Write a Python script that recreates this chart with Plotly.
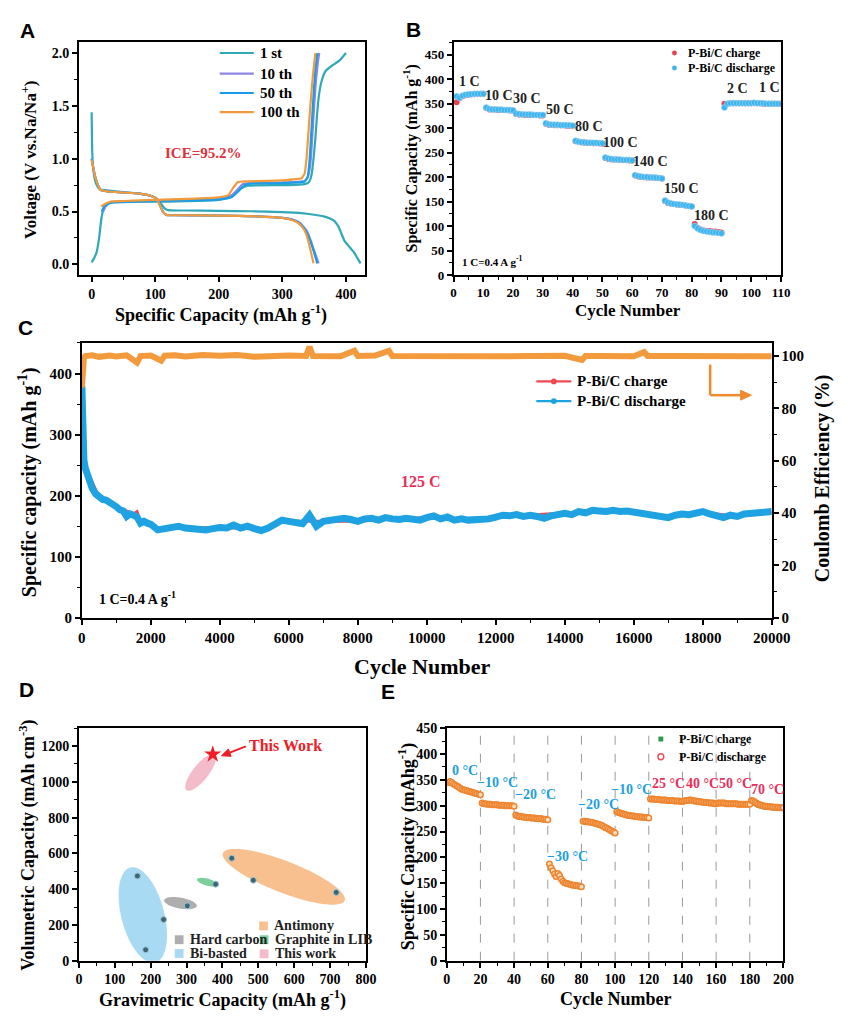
import numpy as np
import plotly.graph_objects as go

W, H = 855, 1016
SERIF = "Liberation Serif"
SANS = "Liberation Sans"


def fx(x):
    return x / W


def fy(y):
    return 1 - y / H


# ---------------- Panel A: charge/discharge profiles ----------------
a_cycles = ["1 st", "10 th", "50 th", "100 th"]
a_colors = ["#2fa8ba", "#8e86e6", "#1a9de6", "#f39a3c"]

a_dis_cap = [
    [0, 1, 3, 6, 10, 14, 25, 50, 75, 95, 102, 108, 114, 118, 125, 150, 200, 250, 300, 330, 350, 365, 375, 382, 388, 393, 398, 405, 412, 418, 423],
    [0, 3, 6, 10, 14, 25, 50, 75, 90, 100, 106, 112, 118, 130, 200, 260, 300, 318, 328, 338, 345, 350, 357],
    [0, 3, 6, 10, 14, 25, 50, 75, 90, 100, 106, 112, 118, 130, 200, 260, 300, 317, 327, 337, 344, 349, 355],
    [0, 3, 6, 10, 14, 25, 50, 75, 90, 100, 106, 112, 118, 130, 200, 260, 300, 315, 325, 334, 340, 344, 349],
]
a_dis_v = [
    [1.44, 1.05, 0.88, 0.78, 0.73, 0.71, 0.70, 0.685, 0.67, 0.645, 0.625, 0.585, 0.535, 0.518, 0.512, 0.51, 0.507, 0.503, 0.495, 0.485, 0.47, 0.455, 0.435, 0.41, 0.36, 0.29, 0.22, 0.17, 0.12, 0.06, 0.01],
    [1.0, 0.90, 0.82, 0.75, 0.705, 0.69, 0.68, 0.67, 0.655, 0.63, 0.58, 0.50, 0.468, 0.465, 0.462, 0.455, 0.44, 0.42, 0.39, 0.32, 0.22, 0.13, 0.01],
    [1.0, 0.90, 0.82, 0.75, 0.705, 0.69, 0.68, 0.67, 0.655, 0.63, 0.58, 0.50, 0.468, 0.465, 0.462, 0.455, 0.44, 0.42, 0.39, 0.32, 0.22, 0.13, 0.01],
    [0.99, 0.90, 0.82, 0.75, 0.705, 0.69, 0.68, 0.67, 0.655, 0.63, 0.58, 0.50, 0.468, 0.465, 0.462, 0.455, 0.44, 0.42, 0.39, 0.33, 0.24, 0.14, 0.01],
]
a_chg_cap = [
    [0, 4, 8, 12, 15, 18, 24, 34, 60, 120, 190, 210, 222, 235, 245, 300, 335, 342, 346, 349, 352, 355, 358, 362, 368, 378, 390, 400],
    [18, 22, 30, 50, 100, 200, 218, 228, 238, 250, 300, 335, 340, 344, 347, 350, 353, 356, 358],
    [16, 20, 30, 50, 100, 200, 220, 232, 242, 250, 300, 335, 340, 343, 346, 349, 352, 355],
    [15, 20, 30, 50, 100, 150, 200, 215, 222, 230, 240, 300, 330, 335, 338, 341, 344, 347, 350, 352],
]
a_chg_v = [
    [0.02, 0.06, 0.12, 0.26, 0.42, 0.51, 0.57, 0.59, 0.592, 0.595, 0.605, 0.625, 0.66, 0.72, 0.745, 0.75, 0.76, 0.78, 0.85, 1.0, 1.2, 1.45, 1.62, 1.74, 1.83, 1.88, 1.93, 2.0],
    [0.50, 0.55, 0.59, 0.595, 0.60, 0.62, 0.64, 0.70, 0.76, 0.77, 0.775, 0.79, 0.83, 0.95, 1.2, 1.5, 1.75, 1.92, 2.0],
    [0.50, 0.55, 0.585, 0.59, 0.60, 0.615, 0.635, 0.70, 0.755, 0.765, 0.77, 0.785, 0.83, 1.0, 1.3, 1.6, 1.85, 2.0],
    [0.55, 0.57, 0.595, 0.60, 0.61, 0.62, 0.635, 0.655, 0.72, 0.78, 0.785, 0.795, 0.815, 0.86, 1.0, 1.25, 1.5, 1.72, 1.9, 2.0],
]

# ---------------- Panel B: rate capability ----------------
b_cycle = list(range(1, 111))
b_discharge = [
    365, 362, 366, 368, 369, 369, 370, 370, 370, 370,
    342, 339, 338, 338, 338, 338, 337, 337, 337, 336,
    330, 329, 328, 328, 328, 328, 327, 327, 327, 327,
    310, 308, 307, 307, 307, 306, 306, 306, 306, 305,
    274, 272, 271, 271, 270, 270, 270, 270, 269, 269,
    240, 238, 237, 236, 236, 236, 235, 235, 235, 234,
    204, 202, 201, 200, 200, 199, 199, 199, 198, 197,
    152, 148, 146, 145, 144, 144, 143, 142, 141, 140,
    100, 95, 92, 90, 89, 88, 87, 87, 86, 85,
    342, 350, 351, 351, 351, 351, 351, 351, 351, 351,
    352, 351, 351, 351, 350, 350, 350, 350, 350, 350,
]
b_charge = [
    353, 361, 365, 367, 368, 369, 369, 370, 370, 370,
    341, 338, 338, 338, 337, 337, 337, 337, 336, 336,
    329, 328, 328, 327, 327, 327, 327, 327, 326, 326,
    309, 307, 307, 306, 306, 306, 306, 305, 305, 305,
    273, 272, 271, 270, 270, 270, 269, 269, 269, 268,
    239, 237, 236, 236, 236, 235, 235, 235, 234, 234,
    203, 201, 200, 200, 199, 199, 199, 198, 198, 197,
    151, 147, 146, 145, 144, 143, 143, 142, 141, 140,
    104, 96, 93, 91, 90, 90, 89, 89, 88, 87,
    350, 350, 351, 351, 351, 351, 351, 351, 351, 351,
    351, 351, 351, 350, 350, 350, 350, 350, 350, 350,
]
b_rate_labels = ["1 C", "10 C", "30 C", "50 C", "80 C", "100 C", "140 C", "150 C", "180 C", "2 C", "1 C"]
b_rate_x = [5.2, 15.1, 24.6, 35.6, 45.4, 56, 66.2, 76.6, 86.8, 95.3, 106]
b_rate_y = [396, 366, 361, 338, 304, 270, 232, 176, 121, 381, 383]

# ---------------- Panel C: long-term cycling at 125 C ----------------
c_cycle = [
    1, 10, 30, 60, 100, 150, 200, 300, 400, 500, 600, 700, 800, 900, 1000,
    1100, 1200, 1300, 1400, 1500, 1600, 1700, 1800, 1900, 2000,
    2200, 2400, 2600, 2800, 3000, 3200, 3400, 3600, 3800, 4000,
    4200, 4400, 4600, 4800, 5000, 5200, 5400, 5600, 5800, 6000,
    6200, 6400, 6600, 6800, 7000, 7200, 7400, 7600, 7800, 8000,
    8200, 8400, 8600, 8800, 9000, 9200, 9400, 9600, 9800, 10000,
    10200, 10400, 10600, 10800, 11000, 11200, 11400, 11600, 11800, 12000,
    12200, 12400, 12600, 12800, 13000, 13200, 13400, 13600, 13800, 14000,
    14200, 14400, 14600, 14800, 15000, 15200, 15400, 15600, 15800, 16000,
    16200, 16400, 16600, 16800, 17000, 17200, 17400, 17600, 17800, 18000,
    18200, 18400, 18600, 18800, 19000, 19200, 19400, 19600, 19800, 20000,
]
c_discharge = [
    380, 330, 275, 258, 245, 235, 225, 212, 203, 197, 194, 193, 190, 185, 182,
    177, 175, 166, 170, 168, 165, 155, 158, 155, 153,
    144, 146, 148, 150, 147, 146, 144, 144, 146, 148,
    147, 152, 147, 150, 146, 143, 147, 152, 160, 158,
    156, 154, 168, 150, 158, 160, 160, 163, 161, 158,
    162, 163, 160, 164, 162, 161, 163, 162, 160, 164,
    167, 162, 165, 160, 162, 160, 161, 160, 162, 165,
    168, 167, 169, 166, 168, 166, 163, 167, 170, 171,
    169, 174, 172, 176, 175, 174, 176, 174, 175, 173,
    172, 170, 168, 166, 164, 168, 170, 169, 172, 174,
    170, 166, 164, 168, 166, 170, 171, 173, 172, 174,
]
c_chg_cycle = [1, 100, 500, 1000, 1500, 1600, 1700, 2000, 2200, 3000, 4000, 5000, 5200, 5800, 6000,
               7000, 8000, 9000, 10000, 11000, 12000, 13000, 14000, 15000, 16000, 17000, 18000, 19000, 20000]
c_charge = [385, 248, 197, 182, 170, 174, 157, 153, 145, 147, 148, 146, 144, 158, 158,
            158, 158, 162, 164, 162, 165, 168, 171, 175, 173, 164, 173, 166, 173]
c_ce_cycle = [
    1, 10, 30, 60, 100, 300, 500, 800, 1000, 1300, 1600, 1700, 2000, 2300, 2400,
    2700, 3000, 3500, 4000, 4500, 5000, 5500, 6000, 6500, 6600, 6700, 7000, 7500,
    7900, 8000, 8500, 8900, 9000, 9500, 10000, 11000, 12000, 13000, 14000, 14500,
    14600, 15000, 16000, 16300, 16400, 17000, 18000, 19000, 20000,
]
c_ce = [
    88, 94, 98, 99.5, 100, 100.3, 99.7, 100.2, 99.8, 100.3, 97.5, 100, 100.2, 98.2, 100.1,
    100.3, 99.8, 100.4, 100.1, 100.4, 99.7, 100, 100.2, 100, 103.5, 100, 100.1, 99.9,
    102, 100, 100.2, 102, 100, 99.9, 100, 100.1, 99.9, 100, 100.1, 98.5,
    100, 100, 99.9, 101.5, 100, 100, 100.1, 100, 99.9,
]

# ---------------- Panel D: gravimetric vs volumetric capacity ----------------
d_groups = ["Bi-basted", "Antimony", "Hard carbon", "Graphite in LIB", "This work"]
d_fill = ["rgba(140,205,240,0.75)", "rgba(245,170,105,0.75)", "rgba(140,140,140,0.7)",
          "rgba(80,190,120,0.75)", "rgba(240,160,180,0.7)"]
d_center_x = [178, 571, 283, 358, 339]
d_center_y = [255, 469, 322, 439, 1052]
d_pt_x = [163, 236, 186, 302, 381, 426, 486, 717]
d_pt_y = [474, 230, 61, 307, 428, 573, 450, 382]
d_star = (373, 1154)
d_label = (577, 1204)

# ---------------- Panel E: temperature performance ----------------
e_cycle = list(range(1, 201))
e_discharge = [
    345, 347, 345, 342, 340, 338, 336, 334, 332, 331, 330, 329, 328, 327, 326, 325, 324, 323, 322, 321,
    305, 304, 304, 303, 303, 303, 302, 302, 302, 302, 301, 301, 301, 301, 300, 300, 300, 300, 300, 299,
    282, 280, 279, 279, 278, 278, 277, 277, 277, 276, 276, 276, 275, 275, 275, 275, 274, 274, 274, 273,
    187, 180, 174, 168, 163, 169, 165, 158, 154, 151, 150, 149, 148, 147, 146, 146, 145, 145, 144, 143,
    270, 270, 269, 269, 268, 268, 267, 266, 265, 264, 263, 262, 260, 258, 257, 255, 253, 251, 249, 247,
    289, 287, 286, 285, 284, 283, 282, 281, 281, 280, 280, 279, 279, 278, 278, 278, 277, 277, 277, 276,
    313, 313, 313, 312, 312, 312, 311, 311, 311, 311, 310, 310, 310, 310, 309, 309, 309, 309, 308, 308,
    309, 310, 310, 311, 311, 310, 309, 309, 308, 308, 307, 307, 306, 306, 306, 305, 305, 305, 304, 304,
    305, 305, 305, 305, 305, 304, 304, 304, 304, 304, 304, 304, 303, 303, 303, 303, 303, 303, 303, 303,
    310, 309, 307, 305, 303, 302, 301, 300, 299, 299, 298, 298, 298, 297, 297, 297, 297, 296, 296, 296,
]
e_charge = [
    344, 346, 344, 341, 339, 337, 335, 333, 331, 330, 329, 328, 327, 326, 325, 324, 323, 322, 321, 320,
    304, 303, 303, 302, 302, 302, 301, 301, 301, 301, 300, 300, 300, 300, 299, 299, 299, 299, 299, 298,
    281, 279, 278, 278, 277, 277, 276, 276, 276, 275, 275, 275, 274, 274, 274, 274, 273, 273, 273, 272,
    185, 178, 172, 166, 162, 167, 163, 157, 153, 150, 149, 148, 147, 146, 145, 145, 144, 144, 143, 142,
    269, 269, 268, 268, 267, 267, 266, 265, 264, 263, 262, 261, 259, 257, 256, 254, 252, 250, 248, 246,
    288, 286, 285, 284, 283, 282, 281, 280, 280, 279, 279, 278, 278, 277, 277, 277, 276, 276, 276, 275,
    312, 312, 312, 311, 311, 311, 310, 310, 310, 310, 309, 309, 309, 309, 308, 308, 308, 308, 307, 307,
    308, 309, 309, 310, 310, 309, 308, 308, 307, 307, 306, 306, 305, 305, 305, 304, 304, 304, 303, 303,
    304, 304, 304, 304, 304, 303, 303, 303, 303, 303, 303, 303, 302, 302, 302, 302, 302, 302, 302, 302,
    307, 306, 304, 302, 300, 299, 298, 297, 297, 296, 296, 296, 295, 295, 295, 295, 294, 294, 294, 294,
]
e_steps = [20, 40, 60, 80, 100, 120, 140, 160, 180]
e_temp_labels = ["0 °C", "−10 °C", "−20 °C", "−30 °C", "−20 °C", "−10 °C", "25 °C", "40 °C", "50 °C", "70 °C"]
e_temp_x = [11, 30.4, 52.6, 71.8, 89.9, 109.5, 132, 151.7, 171.5, 190.8]
e_temp_y = [369, 345, 321, 201, 302, 332, 343, 343, 343, 331]
e_temp_colors = ["#1e9fe0"] * 6 + ["#e8305a"] * 4

fig = go.Figure()

# ---- A traces
for i in range(4):
    fig.add_trace(go.Scatter(x=a_dis_cap[i], y=a_dis_v[i], mode="lines",
                             line=dict(color=a_colors[i], width=2.2, shape="spline", smoothing=0.4),
                             xaxis="x", yaxis="y", showlegend=False))
    fig.add_trace(go.Scatter(x=a_chg_cap[i], y=a_chg_v[i], mode="lines",
                             line=dict(color=a_colors[i], width=2.2, shape="spline", smoothing=0.4),
                             xaxis="x", yaxis="y", showlegend=False))

# ---- B traces
fig.add_trace(go.Scatter(x=b_cycle, y=b_charge, mode="markers",
                         marker=dict(color="#e8404f", size=6, line=dict(width=0)),
                         xaxis="x2", yaxis="y2", showlegend=False))
fig.add_trace(go.Scatter(x=b_cycle, y=b_discharge, mode="markers",
                         marker=dict(color="#3bb3ee", size=6, line=dict(color="#a5dcf7", width=0.6)),
                         xaxis="x2", yaxis="y2", showlegend=False))

# ---- C traces
fig.add_trace(go.Scatter(x=c_ce_cycle, y=c_ce, mode="lines",
                         line=dict(color="#f39a3c", width=6),
                         xaxis="x3", yaxis="y4", showlegend=False))
fig.add_trace(go.Scatter(x=c_chg_cycle, y=c_charge, mode="lines",
                         line=dict(color="#ee4a55", width=3),
                         xaxis="x3", yaxis="y3", showlegend=False))
fig.add_trace(go.Scatter(x=c_cycle, y=c_discharge, mode="lines",
                         line=dict(color="#1fa2e2", width=7),
                         xaxis="x3", yaxis="y3", showlegend=False))

# ---- D traces
D_LEFT, D_BOTTOM = 77, 968
sx_d = 295 / 800.0
sy_d = 236 / 1300.0
d_axes_px = [(50, 22, 75), (67, 16, 21), (17, 5.5, 10), (11, 3.5, 15), (23, 8, -51)]
shapes = []
for k in range(5):
    a_px, b_px, ang = d_axes_px[k]
    t = np.linspace(0, 2 * np.pi, 72)
    th = np.radians(ang)
    dxp = a_px * np.cos(t) * np.cos(th) - b_px * np.sin(t) * np.sin(th)
    dyp = a_px * np.cos(t) * np.sin(th) + b_px * np.sin(t) * np.cos(th)
    xs = d_center_x[k] + dxp / sx_d
    ys = d_center_y[k] - dyp / sy_d
    path = "M " + " L ".join(f"{x:.2f},{y:.2f}" for x, y in zip(xs, ys)) + " Z"
    shapes.append(dict(type="path", path=path, xref="x4", yref="y5",
                       fillcolor=d_fill[k], line=dict(width=0), layer="below"))

fig.add_trace(go.Scatter(x=d_pt_x, y=d_pt_y, mode="markers",
                         marker=dict(color="#3d6675", size=6, line=dict(color="#9fc9d9", width=1)),
                         xaxis="x4", yaxis="y5", showlegend=False))
fig.add_trace(go.Scatter(x=[d_star[0]], y=[d_star[1]], mode="markers",
                         marker=dict(color="#ee1c25", size=13, symbol="star"),
                         xaxis="x4", yaxis="y5", showlegend=False))

# ---- E traces
fig.add_trace(go.Scatter(x=e_cycle, y=e_charge, mode="markers",
                         marker=dict(color="#2f9a48", size=4, symbol="square"),
                         xaxis="x5", yaxis="y6", showlegend=False))
fig.add_trace(go.Scatter(x=e_cycle, y=e_discharge, mode="markers",
                         marker=dict(color="#fde0c0", size=5.5, line=dict(color="#ee8530", width=1.5)),
                         xaxis="x5", yaxis="y6", showlegend=False))

for s in e_steps:
    shapes.append(dict(type="line", xref="x5", yref="y6", x0=s, x1=s, y0=0, y1=450,
                       line=dict(color="#9a9a9a", width=1, dash="dash"), layer="below"))


# ---- axes
def axis(**kw):
    base = dict(showline=True, linecolor="black", linewidth=1.6, mirror=True,
                ticks="outside", ticklen=5, tickwidth=1.5, tickcolor="black",
                showgrid=False, zeroline=False,
                tickfont=dict(family=SERIF, size=14, color="black", weight="bold"))
    base.update(kw)
    return base


def minor(d):
    return dict(ticks="outside", ticklen=3, tickwidth=1.2, tickcolor="black", dtick=d)


ya = [fy(272), fy(36)]
yc = [fy(620), fy(341)]
yd = [fy(968), fy(732)]

layout = dict(
    width=W, height=H, margin=dict(l=0, r=0, t=0, b=0),
    paper_bgcolor="white", plot_bgcolor="white", showlegend=False,
    xaxis=axis(domain=[fx(77), fx(371)], range=[-20, 430], dtick=100, anchor="y", minor=minor(50)),
    yaxis=axis(domain=ya, range=[-0.1, 2.1], dtick=0.5, tickformat=".1f", anchor="x", minor=minor(0.25)),
    xaxis2=axis(domain=[fx(462), fx(798.5)], range=[0, 110], dtick=10, anchor="y2", minor=minor(5),
                tickfont=dict(family=SERIF, size=13, color="black", weight="bold")),
    yaxis2=axis(domain=ya, range=[0, 475], dtick=50, anchor="x2", minor=minor(25),
                tickfont=dict(family=SERIF, size=13, color="black", weight="bold")),
    xaxis3=axis(domain=[fx(80), fx(789)], range=[0, 20000], dtick=2000, tickformat="d", anchor="y3",
                minor=minor(1000), tickfont=dict(family=SERIF, size=15, color="black", weight="bold")),
    yaxis3=axis(domain=yc, range=[0, 450], dtick=100, anchor="x3", minor=minor(50),
                tickfont=dict(family=SERIF, size=15, color="black", weight="bold")),
    yaxis4=axis(range=[0, 105], dtick=20, anchor="x3", overlaying="y3", side="right", mirror=False,
                minor=minor(10), tickfont=dict(family=SERIF, size=15, color="black", weight="bold")),
    xaxis4=axis(domain=[fx(D_LEFT), fx(372)], range=[0, 800], dtick=100, anchor="y5", minor=minor(50)),
    yaxis5=axis(domain=[fy(D_BOTTOM), fy(732)], range=[0, 1300], dtick=200, anchor="x4", minor=minor(100)),
    xaxis5=axis(domain=[fx(455), fx(801)], range=[0, 200], dtick=20, anchor="y6", minor=minor(10)),
    yaxis6=axis(domain=yd, range=[0, 450], dtick=50, anchor="x5", minor=minor(25)),
)


def txt(x, y, s, size, color="black", family=SERIF, angle=0, xanchor="center", bold=True):
    return dict(x=fx(x), y=fy(y), xref="paper", yref="paper", text=s, showarrow=False,
                textangle=angle, xanchor=xanchor, yanchor="middle",
                font=dict(family=family, size=size, color=color, weight="bold" if bold else "normal"))


def arrow(x0, y0, x1, y1, color, width, head=9, half=4):
    """Straight arrow drawn from (x0, y0) to (x1, y1) in page pixels."""
    v = np.array([x1 - x0, y1 - y0], dtype=float)
    u = v / np.linalg.norm(v)
    n = np.array([-u[1], u[0]])
    base = np.array([x1, y1]) - head * u
    p1 = base + half * n
    p2 = base - half * n
    out = [dict(type="line", xref="paper", yref="paper", x0=fx(x0), y0=fy(y0),
                x1=fx(base[0]), y1=fy(base[1]), line=dict(color=color, width=width))]
    path = (f"M {fx(x1):.5f},{fy(y1):.5f} L {fx(p1[0]):.5f},{fy(p1[1]):.5f} "
            f"L {fx(p2[0]):.5f},{fy(p2[1]):.5f} Z")
    out.append(dict(type="path", xref="paper", yref="paper", path=path,
                    fillcolor=color, line=dict(color=color, width=1)))
    return out


ann = []
# panel letters
for lab, x, y in [("A", 24, 24), ("B", 421, 23), ("C", 22, 325), ("D", 23, 693), ("E", 395, 695)]:
    ann.append(txt(x, y, lab, 21, family=SANS))

# axis titles
ann += [
    txt(25, 155, "Voltage (V vs.Na/Na<sup>+</sup>)", 17, angle=-90),
    txt(223, 312, "Specific Capacity (mAh g<sup>-1</sup>)", 18),
    txt(418, 154, "Specific Capacity (mAh g<sup>-1</sup>)", 16, angle=-90),
    txt(641, 308, "Cycle Number", 17),
    txt(25, 482, "Specific capacity (mAh g<sup>-1</sup>)", 20, angle=-90),
    txt(842, 478, "Coulomb Efficiency (%)", 20, angle=-90),
    txt(430, 669, "Cycle Number", 22),
    txt(25, 851, "Volumetric Capacity (mAh cm<sup>-3</sup>)", 18, angle=-90),
    txt(225, 1007, "Gravimetric Capacity (mAh g<sup>-1</sup>)", 18),
    txt(415, 852, "Specific Capacity (mAhg<sup>-1</sup>)", 18, angle=-90),
    txt(628, 1007, "Cycle Number", 18),
]

# panel A legend and label
a_leg_y = [46.7, 67.7, 87.3, 106.7]
for i in range(4):
    shapes.append(dict(type="line", xref="paper", yref="paper", x0=fx(221.7), x1=fx(256.7),
                       y0=fy(a_leg_y[i]), y1=fy(a_leg_y[i]), line=dict(color=a_colors[i], width=2.2)))
    ann.append(txt(261.5, a_leg_y[i], a_cycles[i], 15, xanchor="left"))
ann.append(txt(204, 148, "ICE=95.2%", 15, color="#e0303a"))

# panel B legend and labels
for yy, col, lab in [(46.7, "#e8404f", "P-Bi/C charge"), (62, "#3bb3ee", "P-Bi/C discharge")]:
    shapes.append(dict(type="circle", xref="paper", yref="paper", x0=fx(686.5), x1=fx(691.5),
                       y0=fy(yy + 2.5), y1=fy(yy - 2.5), fillcolor=col, line=dict(width=0)))
    ann.append(txt(701, yy, lab, 12, xanchor="left"))
for lab, x, y in zip(b_rate_labels, b_rate_x, b_rate_y):
    ann.append(dict(x=x, y=y, xref="x2", yref="y2", text=lab, showarrow=False,
                    font=dict(family=SERIF, size=14, color="#222", weight="bold")))
ann.append(txt(469, 258, "1 C=0.4 A g<sup>-1</sup>", 11, xanchor="left"))

# panel C legend, arrow and labels
for yy, col, lab in [(380, "#ee4a55", "P-Bi/C charge"), (400, "#1fa2e2", "P-Bi/C discharge")]:
    shapes.append(dict(type="line", xref="paper", yref="paper", x0=fx(547), x1=fx(583),
                       y0=fy(yy), y1=fy(yy), line=dict(color=col, width=2.2)))
    shapes.append(dict(type="circle", xref="paper", yref="paper", x0=fx(562), x1=fx(568),
                       y0=fy(yy + 3), y1=fy(yy - 3), fillcolor=col, line=dict(width=0)))
    ann.append(txt(587, yy, lab, 15, xanchor="left"))
shapes.append(dict(type="line", xref="paper", yref="paper", x0=fx(725.7), x1=fx(725.7),
                   y0=fy(363), y1=fy(394), line=dict(color="#f08a2e", width=2.5)))
shapes += arrow(725.7, 394, 768, 394, "#f08a2e", 2.5, head=11, half=5)
ann.append(txt(429, 482, "125 C", 16, color="#e8305a"))
ann.append(txt(96, 600, "1 C=0.4 A g<sup>-1</sup>", 14, xanchor="left"))

# panel D labels, arrow and legend
ann.append(dict(x=d_label[0], y=d_label[1], xref="x4", yref="y5", text="This Work", showarrow=False,
                font=dict(family=SERIF, size=16, color="#ee1c25", weight="bold")))
star_px = (D_LEFT + d_star[0] * sx_d, D_BOTTOM - d_star[1] * sy_d)
shapes += arrow(star_px[0] + 34, star_px[1] - 8, star_px[0] + 9, star_px[1] + 1.5, "#ee1c25", 2, head=9, half=4)
d_leg = [(266.7, 932.7, 1, "Antimony"), (180, 946.7, 2, "Hard carbon"), (267.3, 946.7, 3, "Graphite in LIB"),
         (180, 960.7, 0, "Bi-basted"), (267.3, 961, 4, "This work")]
for x, y, k, lab in d_leg:
    shapes.append(dict(type="rect", xref="paper", yref="paper", x0=fx(x - 4.5), x1=fx(x + 4.5),
                       y0=fy(y + 4.5), y1=fy(y - 4.5), fillcolor=d_fill[k], line=dict(width=0)))
    ann.append(txt(x + 9, y, lab, 14, color="#222", xanchor="left"))

# panel E legend and labels
shapes.append(dict(type="rect", xref="paper", yref="paper", x0=fx(672.5), x1=fx(677.5),
                   y0=fy(745.5), y1=fy(740.5), fillcolor="#2f9a48", line=dict(width=0)))
shapes.append(dict(type="circle", xref="paper", yref="paper", x0=fx(672), x1=fx(678),
                   y0=fy(764), y1=fy(758), fillcolor="white", line=dict(color="#ee4a55", width=1.4)))
ann.append(txt(691.5, 743, "P-Bi/C charge", 12, xanchor="left"))
ann.append(txt(691.5, 761, "P-Bi/C discharge", 12, xanchor="left"))
for lab, x, y, col in zip(e_temp_labels, e_temp_x, e_temp_y, e_temp_colors):
    ann.append(dict(x=x, y=y, xref="x5", yref="y6", text=lab, showarrow=False,
                    font=dict(family=SERIF, size=14, color=col, weight="bold")))

layout["annotations"] = ann
layout["shapes"] = shapes
fig.update_layout(**layout)

fig.write_html("out.html")
